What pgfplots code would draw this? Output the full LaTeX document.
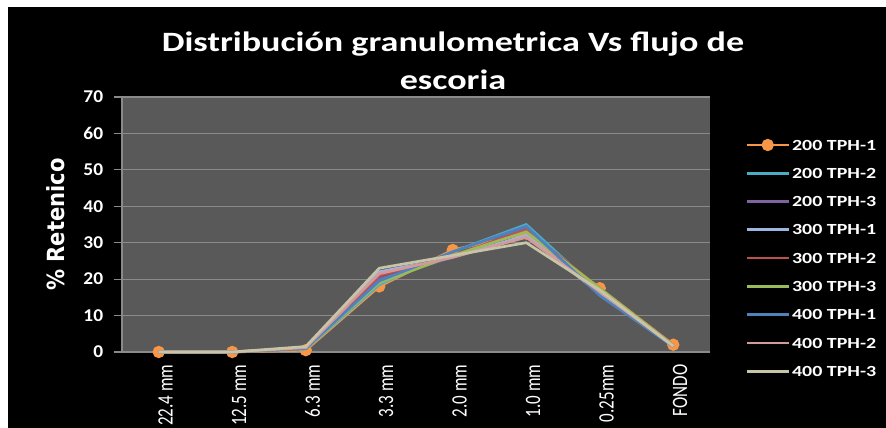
\documentclass[border=0pt]{standalone}
\usepackage{pgfplots}
\pgfplotsset{compat=1.18}
\usepackage{fontspec}
\setmainfont{Carlito}[FakeStretch=1.29]
\newfontfamily\rotfont{Carlito}
\newfontfamily\ylabfont{DejaVu Sans}
\definecolor{cA}{HTML}{F79646}
\definecolor{cB}{HTML}{4BACC6}
\definecolor{cC}{HTML}{8064A2}
\definecolor{cD}{HTML}{9DB5E0}
\definecolor{cE}{HTML}{C0504D}
\definecolor{cF}{HTML}{9BBB59}
\definecolor{cG}{HTML}{4F81BD}
\definecolor{cH}{HTML}{D49A9B}
\definecolor{cI}{HTML}{C8C4A6}
\definecolor{plotbg}{HTML}{595959}
\definecolor{gridc}{HTML}{8A8A8A}
\begin{document}
\begin{tikzpicture}[x=0.75pt,y=0.75pt]
\useasboundingbox (0,0) rectangle (886,428);
\fill[white] (0,0) rectangle (886,428);
\fill[black] (8,0) rectangle (886,421);
\node[text=white, anchor=base, font=\fontsize{21pt}{25pt}\selectfont\bfseries] at (453,376) {Distribución granulometrica Vs flujo de};
\node[text=white, anchor=base, font=\fontsize{21pt}{25pt}\selectfont\bfseries] at (453,338) {escoria};
\begin{axis}[
  at={(91.5pt,57pt)}, anchor=south west,
  scale only axis, width=441pt, height=191.25pt,
  xmin=-0.5, xmax=7.5, ymin=0, ymax=70,
  clip=false, clip marker paths=true,
  axis background/.style={fill=plotbg},
  axis line style={draw=gridc, line width=0.8pt},
  axis x line*=bottom, axis y line*=left,
  xtick={0,...,7},
  xticklabels={22.4 mm,12.5 mm,6.3 mm,3.3 mm,2.0 mm,1.0 mm,0.25mm,FONDO},
  x tick style={draw=none},
  xticklabel style={rotate=90, yscale=1.29, anchor=east, text=white, font=\rotfont\fontsize{12.75pt}{14pt}\selectfont, yshift=-4pt},
  ytick={0,10,...,70},
  y tick style={draw=gridc, line width=0.8pt},
  tick align=outside, major tick length=6pt,
  yticklabel style={text=white, font=\rotfont\bfseries\fontsize{13.5pt}{15pt}\selectfont, xscale=1.08, xshift=-4pt},
  /pgf/number format/assume math mode=true,
  ymajorgrids, grid style={draw=gridc, line width=0.8pt},
  ylabel={\% Retenico},
  ylabel style={at={(-0.112,0.5)}, anchor=center, text=white, font=\ylabfont\bfseries\fontsize{15.8pt}{18pt}\selectfont, yscale=1.12},
  every axis plot/.append style={line width=2pt},
  legend style={draw=none, fill=none, text=white, font=\fontsize{11.6pt}{13pt}\selectfont\bfseries,
    at={(1.053,0.851)}, anchor=north west, row sep=10.6pt,
    nodes={inner sep=1.5pt, text depth=0pt}},
  legend cell align=left,
  legend image code/.code={\draw[mark repeat=2,mark phase=2] plot coordinates {(0pt,0pt)(15.75pt,0pt)(31.5pt,0pt)};},
]
\addplot[color=cA, mark=*, mark size=3.6pt, mark options={fill=cA, draw=cA}] coordinates {(0,0)(1,0)(2,0.5)(3,18)(4,28)(5,32.5)(6,17.5)(7,2)};
\addlegendentry{200 TPH-1}
\addplot[color=cB, no markers] coordinates {(0,0)(1,0)(2,0.8)(3,18.5)(4,27.5)(5,35)(6,16.5)(7,1.8)};
\addlegendentry{200 TPH-2}
\addplot[color=cC, no markers] coordinates {(0,0)(1,0)(2,1)(3,20)(4,26)(5,34)(6,16.5)(7,1.7)};
\addlegendentry{200 TPH-3}
\addplot[color=cD, no markers] coordinates {(0,0)(1,0)(2,1.2)(3,22)(4,26)(5,32)(6,16)(7,1.6)};
\addlegendentry{300 TPH-1}
\addplot[color=cE, no markers] coordinates {(0,0)(1,0)(2,1)(3,21)(4,26.5)(5,33.5)(6,17.5)(7,1.8)};
\addlegendentry{300 TPH-2}
\addplot[color=cF, no markers] coordinates {(0,0)(1,0)(2,1)(3,19)(4,26.5)(5,33)(6,17.5)(7,1.8)};
\addlegendentry{300 TPH-3}
\addplot[color=cG, no markers] coordinates {(0,0)(1,0)(2,1)(3,19.5)(4,27.5)(5,34.5)(6,15.5)(7,1.5)};
\addlegendentry{400 TPH-1}
\addplot[color=cH, no markers] coordinates {(0,0)(1,0)(2,1.2)(3,21.5)(4,26)(5,31.5)(6,16.5)(7,1.7)};
\addlegendentry{400 TPH-2}
\addplot[color=cI, no markers] coordinates {(0,0)(1,0)(2,1.5)(3,23)(4,26.5)(5,30)(6,17)(7,1.6)};
\addlegendentry{400 TPH-3}
\end{axis}
\end{tikzpicture}
\end{document}
